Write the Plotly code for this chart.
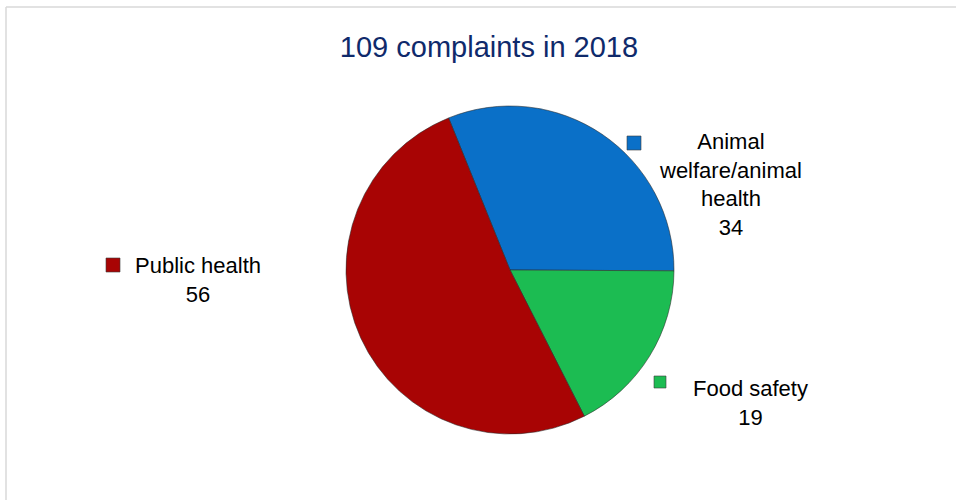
"""Complaints pie chart for 2018."""

import plotly.graph_objects as go

# ---------------------------------------------------------------------------
# Data
# ---------------------------------------------------------------------------

CATEGORIES = ["Animal welfare/animal health", "Food safety", "Public health"]
LABEL_TEXT = ["Animal<br>welfare/animal<br>health", "Food safety", "Public health"]
COUNTS = [34, 19, 56]
TITLE = "109 complaints in 2018"

_BLUE = "#0A70C8"
_GREEN = "#1CBC52"
_RED = "#A80404"
_COLOURS = [_BLUE, _GREEN, _RED]

W, H = 956, 500
_FONT = "Liberation Sans, Arial"


def px_x(x):
    return x / W


def px_y(y):
    return 1 - y / H


fig = go.Figure(
    go.Pie(
        labels=CATEGORIES,
        values=COUNTS,
        sort=False,
        direction="clockwise",
        rotation=-22,
        marker=dict(colors=_COLOURS, line=dict(color="rgba(40,40,40,0.55)", width=1)),
        textinfo="none",
        hoverinfo="label+value",
        showlegend=False,
        domain=dict(x=[px_x(346), px_x(674)], y=[px_y(434), px_y(106)]),
    )
)

# label centres and legend-key squares (centre, size) in pixels
label_pos = [(730, 184), (750, 403), (198, 280)]
key_pos = [(634, 143, 14), (660, 382, 12), (113, 265, 14)]

for text, n, (lx, ly), (kx, ky, ks), col in zip(
    LABEL_TEXT, COUNTS, label_pos, key_pos, _COLOURS
):
    fig.add_annotation(
        x=px_x(lx), y=px_y(ly), xref="paper", yref="paper",
        xanchor="center", yanchor="middle",
        text=f"{text}<br>{n}", showarrow=False, align="center",
        font=dict(family=_FONT, size=22, color="#000000"),
    )
    h = ks / 2
    fig.add_shape(
        type="rect", xref="paper", yref="paper",
        x0=px_x(kx - h), x1=px_x(kx + h), y0=px_y(ky + h), y1=px_y(ky - h),
        fillcolor=col, line=dict(color="rgba(60,60,60,0.6)", width=1),
    )

# frame lines (top + left)
fig.add_shape(type="line", xref="paper", yref="paper",
              x0=px_x(6), x1=1, y0=px_y(7), y1=px_y(7),
              line=dict(color="#D9D9D9", width=1.5))
fig.add_shape(type="line", xref="paper", yref="paper",
              x0=px_x(6), x1=px_x(6), y0=px_y(7), y1=0,
              line=dict(color="#D9D9D9", width=1.5))

fig.update_layout(
    title=dict(
        text=TITLE, x=px_x(489), xanchor="center", y=px_y(47), yanchor="middle",
        font=dict(family=_FONT, size=29, color="#0F2A6B"),
    ),
    width=W, height=H,
    margin=dict(l=0, r=0, t=0, b=0),
    paper_bgcolor="white",
    plot_bgcolor="white",
)

fig.write_html(
    "out.html",
    config={"displayModeBar": False},
    post_script="document.body.style.margin='0';",
)
